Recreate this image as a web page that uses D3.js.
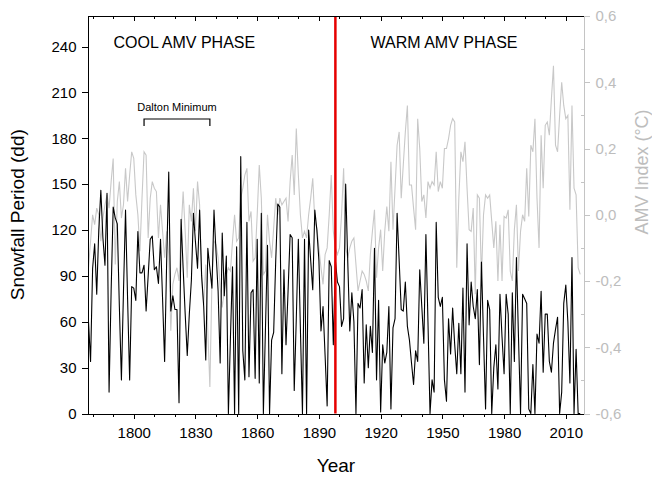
<!DOCTYPE html>
<html>
<head>
  <meta charset="UTF-8">
  <title>Snowfall Period and AMV Index</title>
  <script src="https://d3js.org/d3.v7.min.js"></script>
  <style>
    body { margin: 0; background: #fff; }
    svg { font-family: Arial, "Liberation Sans", sans-serif; }
    .axis path, .axis line { fill: none; stroke: #000; shape-rendering: crispEdges; }
    .axis text { font-size: 15px; fill: #000; }
    .amv path, .amv line { stroke: #c4c4c4; }
    .amv text { fill: #bdbdbd; }
  </style>
</head>
<body>
  <div id="chart"></div>
  <script>
    // first year of both series, one value per year after that
    const startYear = 1778;

    // snowfall period (dd), black line
    const snowfall = [
      60, 34,
      95, 111, 78, 120, 146, 115, 97, 144, 14, 80,
      135, 128, 124, 70, 22, 80, 133, 75, 22, 83,
      82, 74, 119, 92, 92, 97, 67, 90, 114, 116,
      94, 96, 85, 114, 75, 34, 100, 158, 67, 77,
      68, 68, 7, 127, 95, 65, 38, 65, 87, 131,
      112, 95, 133, 90, 70, 35, 108, 95, 82, 133,
      105, 80, 33, 118, 77, 103, 0, 50, 96, 0,
      109, 0, 168, 41, 22, 125, 24, 79, 81, 23,
      114, 20, 131, 0, 55, 110, 0, 48, 53, 100,
      137, 135, 26, 94, 45, 80, 117, 115, 15, 62,
      114, 55, 0, 114, 0, 120, 100, 81, 133, 120,
      100, 54, 70, 38, 5, 100, 96, 45, 100, 86,
      83, 57, 62, 150, 100, 54, 79, 60, 0, 72,
      69, 81, 20, 58, 30, 57, 40, 108, 22, 74,
      1, 45, 33, 40, 70, 3, 56, 62, 131, 100,
      68, 67, 86, 57, 48, 33, 19, 41, 34, 94,
      70, 46, 117, 60, 0, 22, 14, 125, 76, 70,
      76, 22, 8, 62, 39, 69, 45, 26, 59, 26,
      82, 14, 111, 58, 86, 70, 62, 81, 32, 99,
      50, 3, 74, 68, 0, 30, 45, 16, 78, 50,
      26, 78, 65, 0, 79, 34, 102, 50, 0, 78,
      75, 72, 3, 0, 32, 0, 52, 46, 80, 27,
      65, 65, 34, 27, 46, 55, 63, 0, 14, 72,
      84, 60, 20, 102, 0, 42, 0, 0
    ];

    // AMV index (°C), grey line
    const amv = [
      -0.16, -0.08,
      0.0, -0.03, 0.02, 0.0, -0.08, -0.01, 0.03, 0.06, 0.02, 0.1,
      0.17, -0.15, 0.04, 0.1, -0.01, 0.03, 0.14, 0.04, 0.12, 0.19,
      0.17, 0.06, 0.0, -0.11, 0.05, 0.19, 0.18, -0.07, 0.05, 0.1,
      0.08, 0.07, -0.07, 0.03, -0.05, -0.13, -0.05, -0.12, -0.35, -0.21,
      -0.18, -0.16, -0.2, -0.05, 0.07, -0.05, -0.19, 0.03, -0.02, 0.08,
      -0.05, 0.1, 0.03, -0.2, -0.27, -0.15, -0.35, -0.52, -0.2, -0.08,
      -0.09, -0.13, -0.22, -0.28, -0.23, -0.18, -0.16, -0.17, -0.08, 0.0,
      -0.08, -0.07, 0.05, 0.08, 0.12, 0.14, -0.02, 0.01, -0.14, -0.13,
      0.0, 0.15, 0.05, -0.18, -0.17, 0.0, -0.08, -0.13, -0.04, 0.05,
      0.0, 0.05, 0.03, 0.04, 0.05, -0.02, 0.1, 0.18, 0.06, 0.26,
      0.12, 0.0, -0.07, -0.05, -0.07, 0.0, 0.05, 0.11, -0.02, -0.04,
      -0.1, -0.16, -0.21, -0.12, -0.1, 0.0, 0.12, -0.05, -0.1, -0.12,
      -0.1, 0.0, 0.14, -0.1, -0.13, -0.1, -0.08, -0.07, -0.15, -0.23,
      -0.2, -0.17, -0.18, -0.2, -0.23, -0.12, -0.05, 0.015, -0.19, -0.1,
      -0.045, -0.17, -0.05, 0.025, -0.05, 0.16, -0.045, 0.08, 0.21, 0.25,
      0.05, 0.15, 0.25, 0.33, 0.09, 0.09, 0.02, -0.045, 0.29, 0.2,
      0.04, 0.06, -0.01, 0.1, 0.08, 0.1, 0.09, 0.19, 0.07, 0.1,
      0.08, 0.2, 0.2, 0.23, 0.27, 0.29, 0.28, -0.16, 0.05, 0.19,
      0.16, 0.22, 0.08, -0.045, -0.05, 0.02, -0.24, 0.06, 0.05, -0.19,
      0.0, 0.06, 0.05, 0.06, -0.02, -0.1, -0.02, -0.2, -0.03, -0.2,
      -0.005, -0.01, 0.015, -0.17, -0.2, -0.045, 0.03, -0.17, -0.05, 0.0,
      -0.02, 0.14, -0.005, 0.21, 0.19, 0.29, 0.05, -0.1, 0.24, 0.08,
      0.27, 0.28, 0.24, 0.35, 0.45, 0.21, 0.19, 0.3, 0.4, 0.33,
      0.29, 0.3, 0.015, 0.33, 0.08, 0.06, -0.16, -0.18
    ];

    const years = snowfall.map((d, i) => startYear + i);

    const xTicks = [1800, 1830, 1860, 1890, 1920, 1950, 1980, 2010];
    const xMinorTicks = d3.range(1780, 2020, 10);
    const yTicks = [0, 30, 60, 90, 120, 150, 180, 210, 240];
    const amvTicks = [-0.6, -0.4, -0.2, 0.0, 0.2, 0.4, 0.6];
    const amvMinorTicks = [-0.5, -0.3, -0.1, 0.1, 0.3, 0.5];

    const phaseChange = 1898;
    const dalton = [1805, 1837];

    const width = 652, height = 477;
    const margin = { top: 16, right: 68.5, bottom: 63.5, left: 88.5 };
    const plotW = width - margin.left - margin.right;
    const plotH = height - margin.top - margin.bottom;

    const svg = d3.select("#chart")
      .append("svg")
      .attr("width", width)
      .attr("height", height);

    const g = svg.append("g")
      .attr("transform", `translate(${margin.left}, ${margin.top})`);

    // scales
    const x = d3.scaleLinear().domain([1778, 2018.6]).range([0, plotW]);
    const y = d3.scaleLinear().domain([0, 260]).range([plotH, 0]);
    const yAmv = d3.scaleLinear().domain([-0.6, 0.6]).range([plotH, 0]);

    g.append("clipPath").attr("id", "plot-clip")
      .append("rect").attr("width", plotW).attr("height", plotH + 1);

    // AMV line (behind)
    g.append("path")
      .datum(amv)
      .attr("clip-path", "url(#plot-clip)")
      .attr("fill", "none")
      .attr("stroke", "#c8c8c8")
      .attr("stroke-width", 1.1)
      .attr("d", d3.line().x((d, i) => x(years[i])).y(d => yAmv(d)));

    // snowfall line
    g.append("path")
      .datum(snowfall)
      .attr("clip-path", "url(#plot-clip)")
      .attr("fill", "none")
      .attr("stroke", "#000")
      .attr("stroke-width", 1.1)
      .attr("stroke-linejoin", "round")
      .attr("d", d3.line().x((d, i) => x(years[i])).y(d => y(d)));

    // phase boundary
    g.append("line")
      .attr("x1", x(phaseChange)).attr("x2", x(phaseChange))
      .attr("y1", 0).attr("y2", plotH)
      .attr("stroke", "#e60000")
      .attr("stroke-width", 2.5);

    // bottom axis
    g.append("g")
      .attr("class", "axis")
      .attr("transform", `translate(0, ${plotH})`)
      .call(d3.axisBottom(x).tickValues(xMinorTicks).tickSize(3).tickFormat(""))
      .call(a => a.select(".domain").remove());

    g.append("g")
      .attr("class", "axis")
      .attr("transform", `translate(0, ${plotH})`)
      .call(d3.axisBottom(x).tickValues(xTicks).tickSize(5).tickSizeOuter(0).tickPadding(9).tickFormat(d3.format("d")));

    // top border with inward ticks
    g.append("g")
      .attr("class", "axis")
      .call(d3.axisTop(x).tickValues(xMinorTicks).tickSize(-3).tickSizeOuter(0).tickFormat(""));
    g.append("g")
      .attr("class", "axis")
      .call(d3.axisTop(x).tickValues(xTicks).tickSize(-5).tickSizeOuter(0).tickFormat(""));

    // left axis
    g.append("g")
      .attr("class", "axis")
      .call(d3.axisLeft(y).tickValues(yTicks).tickSize(7).tickSizeOuter(0).tickPadding(5))
      .call(a => a.select(".domain").attr("d", `M0,${plotH}V0`));

    // right axis (AMV)
    const right = g.append("g")
      .attr("class", "axis amv")
      .attr("transform", `translate(${plotW}, 0)`);
    right.call(d3.axisRight(yAmv).tickValues(amvTicks).tickSize(6).tickSizeOuter(0).tickPadding(6)
      .tickFormat(d => (Math.abs(d) < 1e-9 ? 0 : d).toFixed(1).replace(".", ",")));
    right.append("g")
      .call(d3.axisLeft(yAmv).tickValues(amvMinorTicks).tickSize(3).tickFormat(""))
      .call(a => a.select(".domain").remove());

    // axis titles
    svg.append("text")
      .attr("transform", `translate(24, ${margin.top + plotH / 2}) rotate(-90)`)
      .attr("text-anchor", "middle")
      .style("font-size", "19px")
      .text("Snowfall Period (dd)");

    svg.append("text")
      .attr("x", margin.left + plotW / 2)
      .attr("y", 472)
      .attr("text-anchor", "middle")
      .style("font-size", "19px")
      .text("Year");

    svg.append("text")
      .attr("transform", `translate(648, ${margin.top + 156}) rotate(-90)`)
      .attr("text-anchor", "middle")
      .style("font-size", "18px")
      .style("fill", "#bdbdbd")
      .text("AMV Index (°C)");

    // phase labels
    g.append("text")
      .attr("x", 25).attr("y", 32)
      .style("font-size", "16px")
      .text("COOL AMV PHASE");

    g.append("text")
      .attr("x", 282).attr("y", 32)
      .style("font-size", "16px")
      .text("WARM AMV PHASE");

    // Dalton Minimum bracket
    const bracketY = 103;
    g.append("path")
      .attr("fill", "none")
      .attr("stroke", "#000")
      .attr("stroke-width", 1.2)
      .attr("d", `M${x(dalton[0])},${bracketY + 7}V${bracketY}H${x(dalton[1])}V${bracketY + 7}`);

    g.append("text")
      .attr("x", (x(dalton[0]) + x(dalton[1])) / 2)
      .attr("y", bracketY - 8)
      .attr("text-anchor", "middle")
      .style("font-size", "11px")
      .text("Dalton Minimum");
  </script>
</body>
</html>
